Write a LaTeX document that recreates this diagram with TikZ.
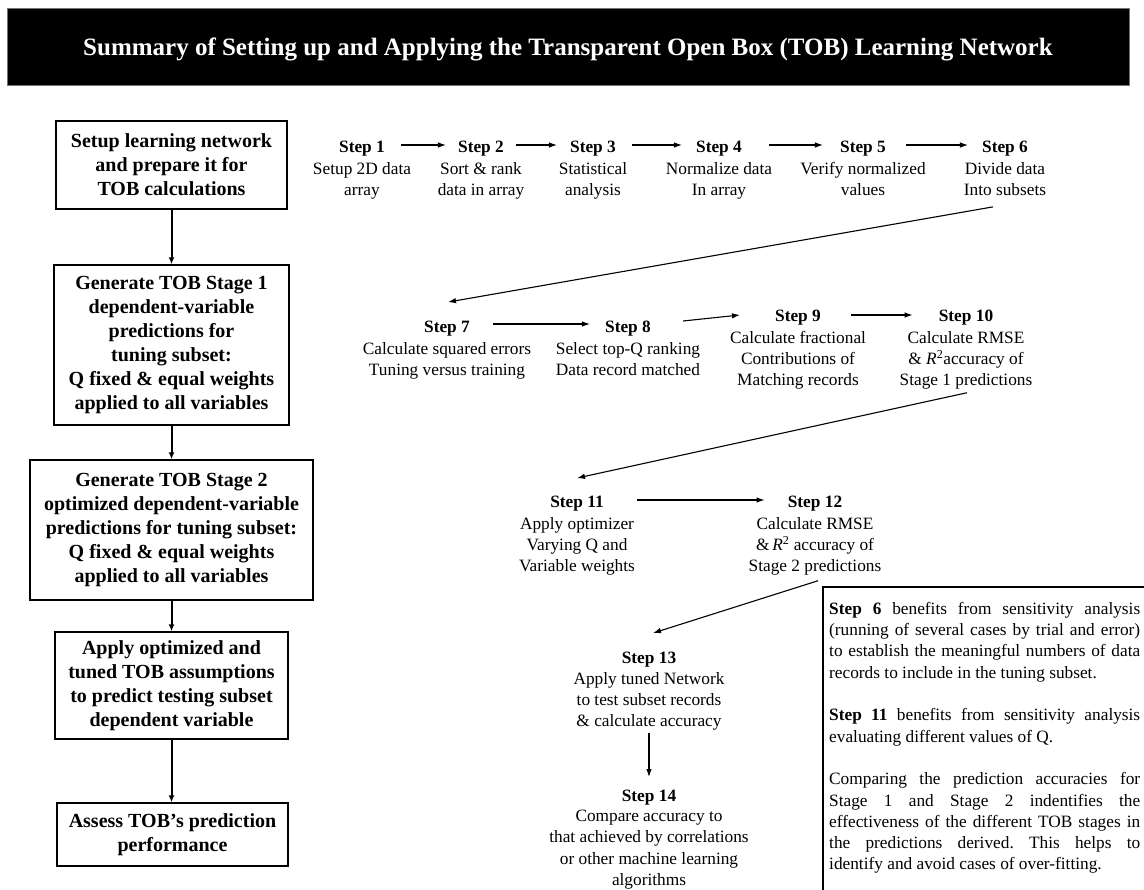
\documentclass[tikz,border=0pt]{standalone}
\usepackage{fontspec}
\setmainfont{Liberation Serif}
\usetikzlibrary{arrows.meta}
\frenchspacing
\begin{document}
\begin{tikzpicture}[x=1pt,y=-1pt,
  titlebar/.style={fill=black, draw=black!55, line width=0.8pt, text=white, inner sep=0pt,
    minimum width=1122pt, minimum height=77pt, text depth=0pt,
    font=\bfseries\fontsize{25}{30}\selectfont},
  box/.style={draw, line width=1.4pt, align=center, inner sep=0pt,
    font=\bfseries\fontsize{20}{24}\selectfont},
  lab/.style={font=\bfseries\fontsize{17.3}{21.3}\selectfont, inner sep=0pt, text depth=0pt},
  desc/.style={font=\fontsize{17.3}{21.3}\selectfont, align=center, inner sep=0pt, anchor=north},
  sarrow/.style={-{Latex[length=8pt,width=5.5pt]}, line width=1.1pt},
  barrow/.style={-{Latex[length=7pt,width=6pt]}, line width=2pt},
  notestyle/.style={anchor=north west, text width=311pt, align=justify, inner sep=0pt,
    font=\fontsize{17.3}{21.3}\selectfont},
]
\useasboundingbox (0,0) rectangle (1144,890);

% title
\node[titlebar] (title) at (568,46.5) {Summary of Setting up and Applying the Transparent Open Box (TOB) Learning Network};

% left column
\node[box, minimum width=231pt, minimum height=88pt] (b1) at (171.5,165)
  {Setup learning network\\and prepare it for\\TOB calculations};
\node[box, minimum width=235pt, minimum height=160pt] (b2) at (171.5,345)
  {Generate TOB Stage 1\\dependent-variable\\predictions for\\tuning subset:\\Q fixed \& equal weights\\applied to all variables};
\node[box, minimum width=283pt, minimum height=140pt] (b3) at (171.5,530)
  {Generate TOB Stage 2\\optimized dependent-variable\\predictions for tuning subset:\\Q fixed \& equal weights\\applied to all variables};
\node[box, minimum width=233pt, minimum height=107pt] (b4) at (171.5,685.5)
  {Apply optimized and\\tuned TOB assumptions\\to predict testing subset\\dependent variable};
\node[box, minimum width=231pt, minimum height=63pt] (b5) at (172.5,834.5)
  {Assess TOB’s prediction\\performance};

\draw[barrow] (b1.south) -- (b2.north);
\draw[barrow] (b2.south) -- (b3.north);
\draw[barrow] (b3.south) -- (b4.north);
\draw[barrow] (b4.south) -- (b4.south |- b5.north);

% steps row 1
\node[lab] (s1) at (362,147) {Step 1};
\node[desc] (d1) at (362,162) {Setup 2D data\\array};
\node[lab] (s2) at (481,147) {Step 2};
\node[desc] (d2) at (481,162) {Sort \& rank\\data in array};
\node[lab] (s3) at (593,147) {Step 3};
\node[desc] (d3) at (593,162) {Statistical\\analysis};
\node[lab] (s4) at (719,147) {Step 4};
\node[desc] (d4) at (719,162) {Normalize data\\In array};
\node[lab] (s5) at (863,147) {Step 5};
\node[desc] (d5) at (863,162) {Verify normalized\\values};
\node[lab] (s6) at (1005,147) {Step 6};
\node[desc] (d6) at (1005,162) {Divide data\\Into subsets};

% steps row 2
\node[lab] (s7) at (447,327) {Step 7};
\node[desc] (d7) at (447,342) {Calculate squared errors\\Tuning versus training};
\node[lab] (s8) at (628,327) {Step 8};
\node[desc] (d8) at (628,342) {Select top-Q ranking\\Data record matched};
\node[lab] (s9) at (798,316) {Step 9};
\node[desc] (d9) at (798,331) {Calculate fractional\\Contributions of\\Matching records};
\node[lab] (s10) at (966,316) {Step 10};
\node[desc] (d10) at (966,331) {Calculate RMSE\\\& \textit{R}\textsuperscript{2}accuracy of\\Stage 1 predictions};

% steps row 3
\node[lab] (s11) at (577,502) {Step 11};
\node[desc] (d11) at (577,517) {Apply optimizer\\Varying Q and\\Variable weights};
\node[lab] (s12) at (815,502) {Step 12};
\node[desc] (d12) at (815,517) {Calculate RMSE\\\&\,\textit{R}\textsuperscript{2} accuracy of\\Stage 2 predictions};

\node[lab] (s13) at (649,658) {Step 13};
\node[desc] (d13) at (649,672) {Apply tuned Network\\to test subset records\\\& calculate accuracy};
\node[lab] (s14) at (649,796) {Step 14};
\node[desc] (d14) at (649,810) {Compare accuracy to\\that achieved by correlations\\or other machine learning\\algorithms};

% step connectors
\draw[sarrow] ([xshift=16pt,yshift=2pt]s1.east) -- ([xshift=-12pt,yshift=2pt]s2.west);
\draw[sarrow] ([xshift=12pt,yshift=2pt]s2.east) -- ([xshift=-13pt,yshift=2pt]s3.west);
\draw[sarrow] ([xshift=16pt,yshift=2pt]s3.east) -- ([xshift=-14pt,yshift=2pt]s4.west);
\draw[sarrow] ([xshift=27pt,yshift=2pt]s4.east) -- ([xshift=-17pt,yshift=2pt]s5.west);
\draw[sarrow] ([xshift=20pt,yshift=2pt]s5.east) -- ([xshift=-14pt,yshift=2pt]s6.west);
\draw[sarrow] ([xshift=-12pt,yshift=-11pt]d6.south) -- ([xshift=1pt,yshift=19pt]s7.north);
\draw[sarrow] ([xshift=23pt,yshift=3pt]s7.east) -- ([xshift=-15pt,yshift=3pt]s8.west);
\draw[sarrow] ([xshift=32pt,yshift=6pt]s8.east) -- ([xshift=-35pt,yshift=1pt]s9.west);
\draw[sarrow] ([xshift=30pt,yshift=1pt]s9.east) -- ([xshift=-26pt,yshift=1pt]s10.west);
\draw[sarrow] ([xshift=1pt,yshift=-3pt]d10.south) -- ([yshift=18pt]s11.north);
\draw[sarrow] ([xshift=33pt,yshift=2pt]s11.east) -- ([xshift=-23pt,yshift=2pt]s12.west);
\draw[sarrow] ([xshift=3pt,yshift=-5pt]d12.south) -- ([xshift=4pt,yshift=19pt]s13.north);
\draw[sarrow] ([yshift=-2pt]d13.south) -- ([yshift=13pt]s14.north);

% note box
\draw[line width=1.2pt] (823,890) -- (823,587) -- (1144,587);
\node[notestyle] (note) at (829,602) {\setlength{\parindent}{0pt}\tolerance=10000\hyphenpenalty=10000\frenchspacing
\textbf{Step 6} benefits from sensitivity analysis\linebreak
(running of several cases by trial and error)\linebreak
to establish the meaningful numbers of data\linebreak
records to include in the tuning subset.\par\vskip 21.3pt
\textbf{Step 11} benefits from sensitivity analysis\linebreak
evaluating different values of Q.\par\vskip 21.3pt
Comparing the prediction accuracies for\linebreak
Stage 1 and Stage 2 indentifies the\linebreak
effectiveness of the different TOB stages in\linebreak
the predictions derived. This helps to\linebreak
identify and avoid cases of over-fitting.};
\end{tikzpicture}
\end{document}
